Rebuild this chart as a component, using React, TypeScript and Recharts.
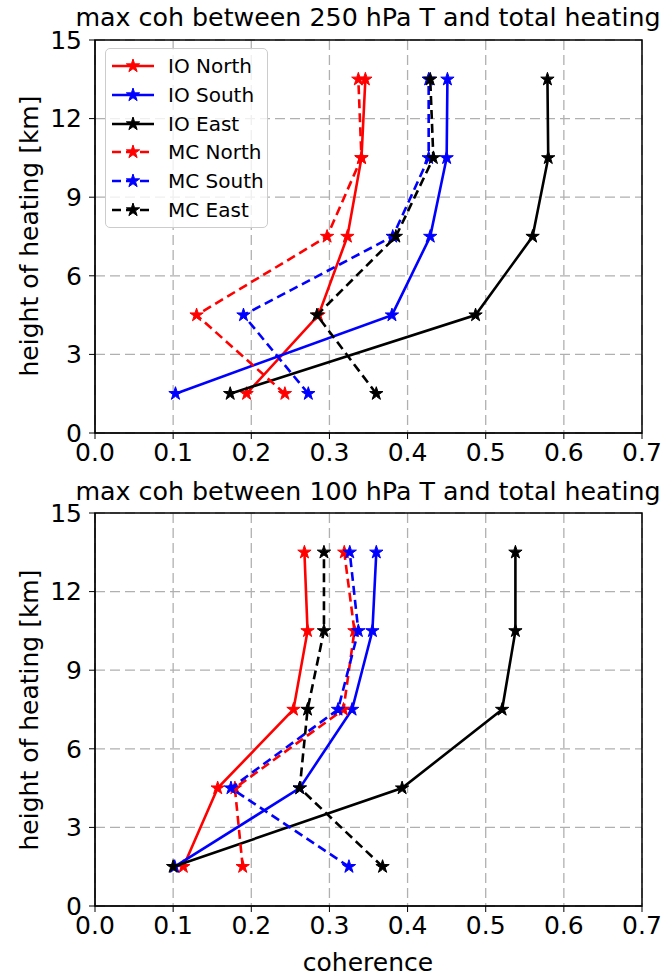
import { ScatterChart, Scatter, XAxis, YAxis, CartesianGrid, ReferenceArea } from 'recharts';

const heights = [1.5, 4.5, 7.5, 10.5, 13.5];
const xTicks = [0, 0.1, 0.2, 0.3, 0.4, 0.5, 0.6, 0.7];
const yTicks = [0, 3, 6, 9, 12, 15];

const seriesNames = ['IO North', 'IO South', 'IO East', 'MC North', 'MC South', 'MC East'];
const seriesColors = ['#ff0000', '#0000ff', '#000000', '#ff0000', '#0000ff', '#000000'];
const seriesDashed = [false, false, false, true, true, true];

// coherence at heights 1.5 .. 13.5 km, 250 hPa panel
const ioNorth250 = [0.194, 0.286, 0.323, 0.341, 0.346];
const ioSouth250 = [0.103, 0.380, 0.429, 0.450, 0.451];
const ioEast250 = [0.173, 0.487, 0.560, 0.580, 0.579];
const mcNorth250 = [0.243, 0.130, 0.297, 0.341, 0.337];
const mcSouth250 = [0.273, 0.190, 0.381, 0.427, 0.427];
const mcEast250 = [0.360, 0.284, 0.385, 0.433, 0.429];

// 100 hPa panel
const ioNorth100 = [0.113, 0.157, 0.254, 0.272, 0.268];
const ioSouth100 = [0.102, 0.262, 0.329, 0.355, 0.360];
const ioEast100 = [0.100, 0.393, 0.521, 0.538, 0.538];
const mcNorth100 = [0.189, 0.179, 0.318, 0.332, 0.319];
const mcSouth100 = [0.325, 0.174, 0.311, 0.337, 0.326];
const mcEast100 = [0.368, 0.262, 0.272, 0.293, 0.293];

const panel250 = [ioNorth250, ioSouth250, ioEast250, mcNorth250, mcSouth250, mcEast250];
const panel100 = [ioNorth100, ioSouth100, ioEast100, mcNorth100, mcSouth100, mcEast100];

const font = 'DejaVu Sans, sans-serif';
const dash = '9 5';

function starPath(cx: number, cy: number, r: number) {
  const inner = r * 0.382;
  let d = '';
  for (let i = 0; i < 10; i++) {
    const rad = i % 2 === 0 ? r : inner;
    const a = -Math.PI / 2 + (i * Math.PI) / 5;
    d += (i === 0 ? 'M' : 'L') + (cx + rad * Math.cos(a)).toFixed(2) + ',' + (cy + rad * Math.sin(a)).toFixed(2);
  }
  return d + 'Z';
}

const Star = (color: string) => (props: any) => {
  if (props.cx == null || props.cy == null) return <g />;
  return <path d={starPath(props.cx, props.cy, 7)} fill={color} stroke={color} strokeWidth={1} />;
};

function Panel({ values }: { values: number[][] }) {
  return (
    <ScatterChart width={664} height={480} margin={{ top: 40, right: 22, bottom: 7, left: 0 }}>
      <CartesianGrid strokeDasharray="10 5" stroke="#b0b0b0" strokeWidth={1.3} />
      <XAxis
        type="number" dataKey="x" domain={[0, 0.7]} ticks={xTicks} height={40}
        tickFormatter={(v: number) => v.toFixed(1)}
        tick={{ fill: '#000', fontSize: 25, fontFamily: font }}
        stroke="#000" tickSize={6} tickMargin={4} interval={0}
      />
      <YAxis
        type="number" dataKey="y" domain={[0, 15]} ticks={yTicks} width={95}
        tick={{ fill: '#000', fontSize: 25, fontFamily: font }}
        stroke="#000" tickSize={6} tickMargin={7} interval={0}
      />
      <ReferenceArea x1={0} x2={0.7} y1={0} y2={15} fill="none" stroke="#000" strokeWidth={1.5} />
      {values.map((vals, i) => (
        <Scatter
          key={seriesNames[i]}
          name={seriesNames[i]}
          data={vals.map((v, k) => ({ x: v, y: heights[k] }))}
          fill={seriesColors[i]}
          line={{ stroke: seriesColors[i], strokeWidth: 2.6, strokeDasharray: seriesDashed[i] ? dash : undefined }}
          shape={Star(seriesColors[i])}
          isAnimationActive={false}
        />
      ))}
    </ScatterChart>
  );
}

function LegendBox() {
  return (
    <div style={{
      position: 'absolute', left: 105, top: 48, width: 163, height: 180, boxSizing: 'border-box',
      background: 'rgba(255,255,255,0.8)', border: '1.3px solid #cccccc', borderRadius: 5,
      padding: '3px 0 0 0', fontFamily: font, fontSize: 20,
    }}>
      {seriesNames.map((n, i) => (
        <div key={n} style={{ display: 'flex', alignItems: 'center', height: 28.7 }}>
          <svg width={62} height={20} style={{ flex: 'none' }}>
            <line x1={6} x2={48} y1={10} y2={10} stroke={seriesColors[i]} strokeWidth={2.6}
              strokeDasharray={seriesDashed[i] ? dash : undefined} />
            <path d={starPath(27, 10, 7)} fill={seriesColors[i]} stroke={seriesColors[i]} />
          </svg>
          <span style={{ color: '#000', whiteSpace: 'nowrap' }}>{n}</span>
        </div>
      ))}
    </div>
  );
}

const textStyle = { position: 'absolute' as const, fontFamily: font, fontSize: 25, color: '#000', whiteSpace: 'nowrap' as const, lineHeight: '28px' };

export default function App() {
  return (
    <div style={{ position: 'absolute', left: 0, top: 0, width: 664, height: 976, background: '#fff', overflow: 'hidden' }}>
      <div style={{ position: 'absolute', left: 0, top: 0 }}>
        <Panel values={panel250} />
      </div>
      <div style={{ position: 'absolute', left: 0, top: 473 }}>
        <Panel values={panel100} />
      </div>
      <LegendBox />
      <div style={{ ...textStyle, fontSize: 25.3, left: 368, top: 4, transform: 'translateX(-50%)' }}>max coh between 250 hPa T and total heating</div>
      <div style={{ ...textStyle, fontSize: 25.3, left: 368, top: 478, transform: 'translateX(-50%)' }}>max coh between 100 hPa T and total heating</div>
      <div style={{ ...textStyle, left: 368, top: 949, transform: 'translateX(-50%)' }}>coherence</div>
      <div style={{ ...textStyle, left: 30, top: 236, transform: 'translate(-50%, -50%) rotate(-90deg)' }}>height of heating [km]</div>
      <div style={{ ...textStyle, left: 30, top: 710, transform: 'translate(-50%, -50%) rotate(-90deg)' }}>height of heating [km]</div>
    </div>
  );
}
